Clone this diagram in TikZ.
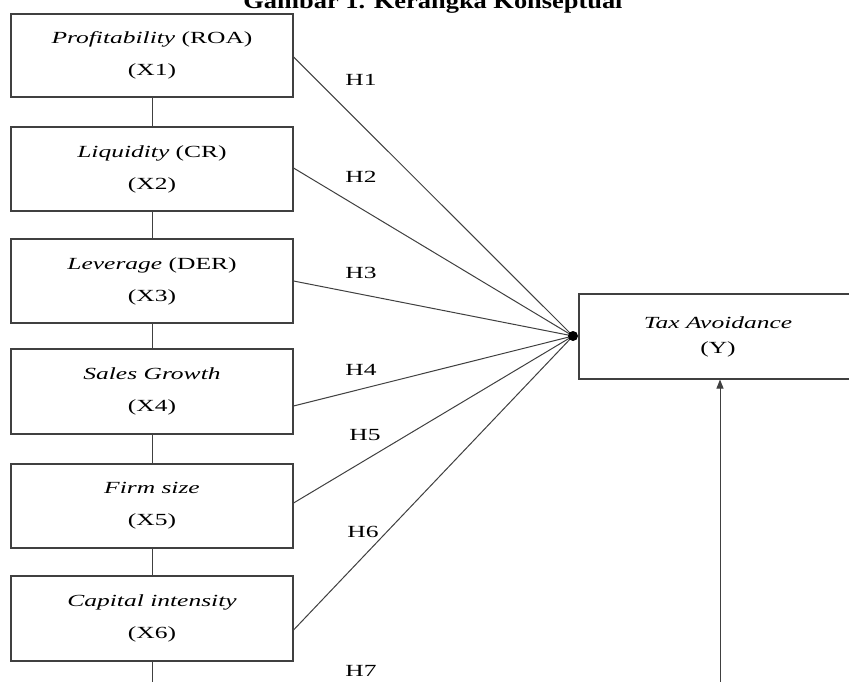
\documentclass[tikz,border=0pt]{standalone}
\usepackage{fontspec}
\setmainfont[FakeStretch=1.5]{Liberation Serif}
\newfontfamily\titlefont[FakeStretch=1.2]{Liberation Serif}
\usetikzlibrary{arrows.meta}
\begin{document}
\begin{tikzpicture}[x=1pt,y=-1pt,
  varbox/.style={draw=black!75, line width=1.1pt, minimum width=282pt, minimum height=84pt,
    inner sep=0pt, align=center, font=\fontsize{17}{32}\selectfont},
  ybox/.style={draw=black!75, line width=1.1pt, minimum width=278pt, minimum height=85pt,
    inner sep=0pt, align=center, font=\fontsize{17}{25}\selectfont},
  link/.style={draw=black!75, line width=1pt},
  hyp/.style={font=\fontsize{17}{19}\selectfont, inner sep=0pt}]
\clip (0,0) rectangle (849,682);
\useasboundingbox (0,0) rectangle (849,682);
\fill[white] (0,0) rectangle (849,682);
\node[font=\titlefont\bfseries\fontsize{22}{24}\selectfont, anchor=base, inner sep=0pt] (title) at (433,9) {Gambar 1. Kerangka Konseptual};

\node[varbox, minimum height=83pt] (x1) at (152,55.5) {\textit{Profitability} (ROA)\\(X1)};
\node[varbox] (x2) at (152,169) {\textit{Liquidity} (CR)\\(X2)};
\node[varbox] (x3) at (152,281) {\textit{Leverage} (DER)\\(X3)};
\node[varbox, minimum height=85pt] (x4) at (152,391.5) {\textit{Sales Growth}\\(X4)};
\node[varbox] (x5) at (152,506) {\textit{Firm size}\\(X5)};
\node[varbox, minimum height=85pt] (x6) at (152,618.5) {\textit{Capital intensity}\\(X6)};

\node[ybox] (y) at (718,336.5) {\textit{Tax Avoidance}\\(Y)};

\coordinate (hub) at (573,336);
\coordinate (x6end) at (152,690);
\coordinate (ybot) at (720,690);

\draw[link] (x1) -- (x2);
\draw[link] (x2) -- (x3);
\draw[link] (x3) -- (x4);
\draw[link] (x4) -- (x5);
\draw[link] (x5) -- (x6);
\draw[link] (x6.south) -- (x6end);

\draw[link] ([yshift=-1.5pt]x1.east) -- (hub);
\draw[link] ([yshift=1pt]x2.east) -- (hub);
\draw[link] (x3.east) -- (hub);
\draw[link] ([yshift=-14.5pt]x4.east) -- (hub);
\draw[link] ([yshift=3pt]x5.east) -- (hub);
\draw[link] ([yshift=-11.5pt]x6.east) -- (hub);
\fill[black] (hub) circle (5);

\draw[link, -{Triangle[length=9pt,width=7pt]}] (ybot) -- (ybot |- y.south);

\node[hyp] (h1) at (361,80) {H1};
\node[hyp] (h2) at (361,177) {H2};
\node[hyp] (h3) at (361,273) {H3};
\node[hyp] (h4) at (361,370) {H4};
\node[hyp] (h5) at (365,435) {H5};
\node[hyp] (h6) at (363,532) {H6};
\node[hyp] (h7) at (361,671) {H7};
\end{tikzpicture}
\end{document}
